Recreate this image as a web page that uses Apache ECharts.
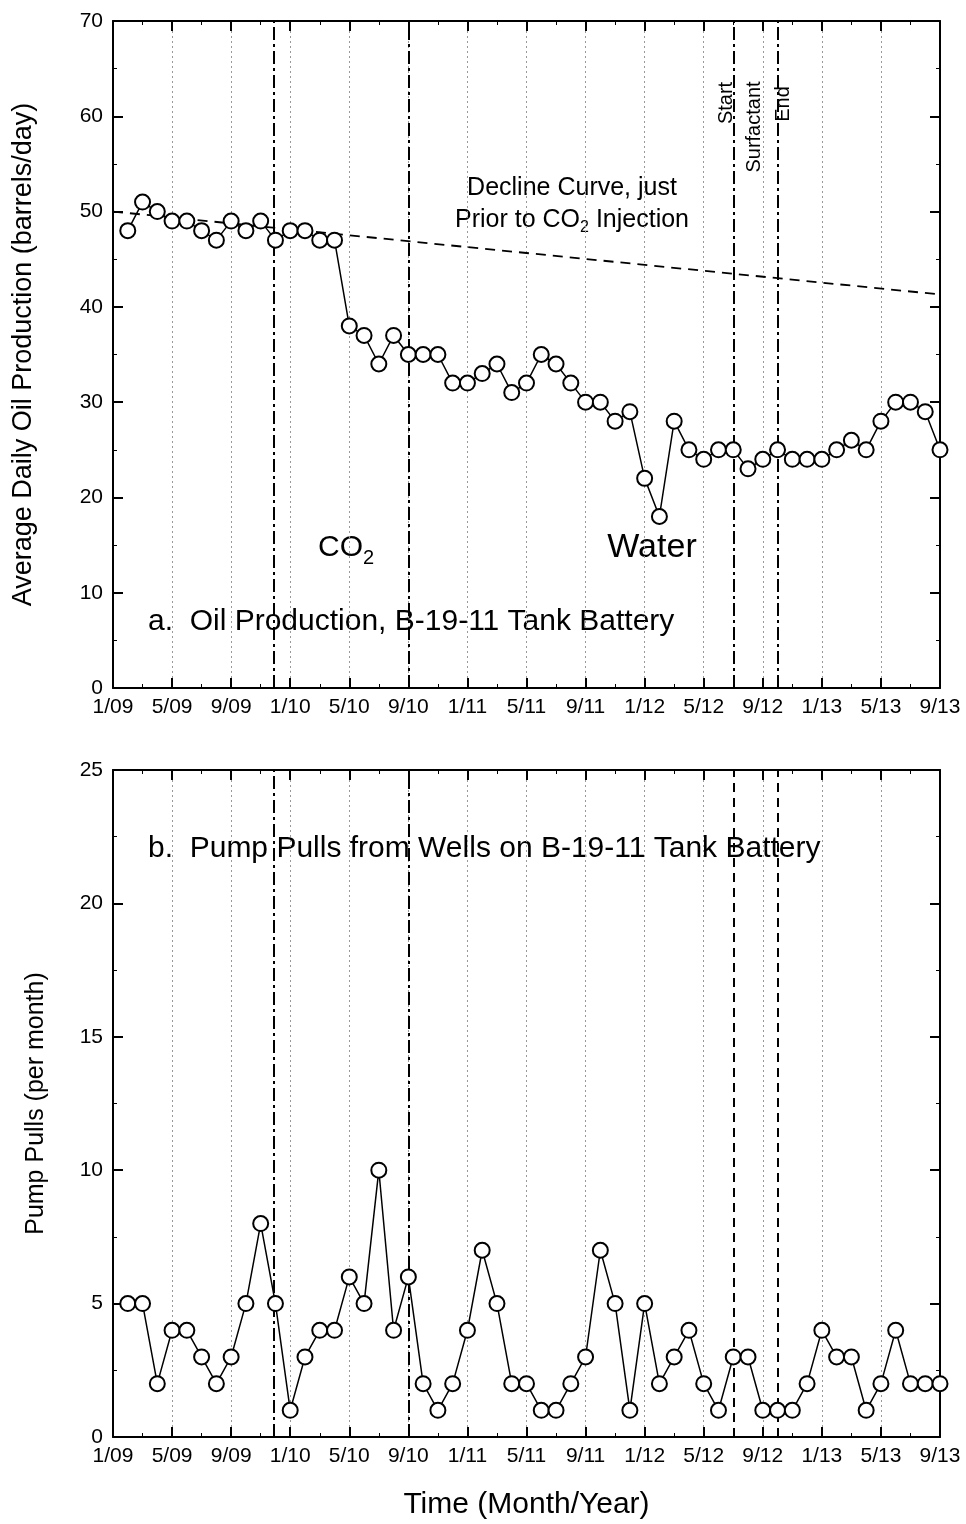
<!DOCTYPE html>
<html>
<head>
<meta charset="utf-8">
<script src="https://cdn.jsdelivr.net/npm/echarts@6/dist/echarts.min.js"></script>
<style>
  html, body { margin: 0; padding: 0; background: #fff; }
  #chart { width: 966px; height: 1524px; }
</style>
</head>
<body>
<div id="chart"></div>
<script>
  // tick labels on the time axis, every 4 months starting 1/09
  const xTickLabels = ['1/09', '5/09', '9/09', '1/10', '5/10', '9/10', '1/11', '5/11',
    '9/11', '1/12', '5/12', '9/12', '1/13', '5/13', '9/13'];

  // monthly average oil production (barrels/day), Feb 09 .. Sep 13
  const oilRate = [48, 51, 50, 49, 49, 48, 47, 49, 48, 49, 47, 48, 48, 47, 47,
    38, 37, 34, 37, 35, 35, 35, 32, 32, 33, 34, 31, 32, 35, 34, 32, 30, 30,
    28, 29, 22, 18, 28, 25, 24, 25, 25, 23, 24, 25, 24, 24, 24, 25, 26, 25, 28, 30, 30, 29, 25];

  // monthly pump pulls
  const pumpPulls = [5, 5, 2, 4, 4, 3, 2, 3, 5, 8, 5, 1, 3, 4, 4, 6, 5, 10, 4, 6,
    2, 1, 2, 4, 7, 5, 2, 2, 1, 1, 2, 3, 7, 5, 1, 5, 2, 3, 4, 2,
    1, 3, 3, 1, 1, 1, 2, 4, 3, 3, 1, 2, 4, 2, 2, 2];

  // decline curve just prior to CO2 injection (month, rate)
  const declineMonths = [0, 56];
  const declineRate = [50, 41.3];

  // event lines: CO2 start, water start, surfactant start, surfactant end
  const eventMonths = [10.9, 20, 42, 45];

  const FONT = '"Liberation Sans", Arial, sans-serif';
  const DASHDOT = [13, 4, 3, 4];
  const DASHED = [9, 6];

  let chart = echarts.init(document.getElementById('chart'));

  function makeXAxes(gridIndex, withName) {
    let main = {
      type: 'value', gridIndex: gridIndex, min: 0, max: 56, interval: 4,
      position: 'bottom',
      axisLine: { onZero: false, lineStyle: { color: '#000', width: 2 } },
      axisTick: { inside: true, length: 10, lineStyle: { color: '#000', width: 2 } },
      minorTick: { show: true, splitNumber: 2, length: 4, lineStyle: { color: '#000', width: 1 } },
      axisLabel: {
        color: '#000', fontFamily: FONT, fontSize: 21, margin: 9,
        formatter: v => xTickLabels[Math.round(v / 4)]
      },
      splitLine: { show: true, lineStyle: { color: '#999', width: 1, type: [2, 3] } }
    };
    if (withName) {
      main.name = 'Time (Month/Year)';
      main.nameLocation = 'middle';
      main.nameGap = 53;
      main.nameTextStyle = { color: '#000', fontFamily: FONT, fontSize: 30 };
    }
    let mirror = {
      type: 'value', gridIndex: gridIndex, min: 0, max: 56, interval: 4,
      position: 'top',
      axisLine: { onZero: false, lineStyle: { color: '#000', width: 2 } },
      axisTick: { inside: true, length: 10, lineStyle: { color: '#000', width: 2 } },
      minorTick: { show: true, splitNumber: 2, length: 4, lineStyle: { color: '#000', width: 1 } },
      axisLabel: { show: false },
      splitLine: { show: false }
    };
    return [main, mirror];
  }

  function makeYAxes(gridIndex, max, interval, name, nameGap, nameSize) {
    let main = {
      type: 'value', gridIndex: gridIndex, min: 0, max: max, interval: interval,
      position: 'left',
      name: name, nameLocation: 'middle', nameGap: nameGap,
      nameTextStyle: { color: '#000', fontFamily: FONT, fontSize: nameSize },
      axisLine: { show: true, onZero: false, lineStyle: { color: '#000', width: 2 } },
      axisTick: { show: true, inside: true, length: 10, lineStyle: { color: '#000', width: 2 } },
      minorTick: { show: true, splitNumber: 2, length: 4, lineStyle: { color: '#000', width: 1 } },
      axisLabel: { color: '#000', fontFamily: FONT, fontSize: 21, margin: 10 },
      splitLine: { show: false }
    };
    let mirror = {
      type: 'value', gridIndex: gridIndex, min: 0, max: max, interval: interval,
      position: 'right',
      axisLine: { show: true, onZero: false, lineStyle: { color: '#000', width: 2 } },
      axisTick: { show: true, inside: true, length: 10, lineStyle: { color: '#000', width: 2 } },
      minorTick: { show: true, splitNumber: 2, length: 4, lineStyle: { color: '#000', width: 1 } },
      axisLabel: { show: false },
      splitLine: { show: false }
    };
    return [main, mirror];
  }

  function eventLines(styles) {
    return {
      silent: true,
      symbol: 'none',
      label: { show: false },
      data: eventMonths.map((m, i) => ({
        xAxis: m,
        lineStyle: { color: '#000', width: 2, type: styles[i] }
      }))
    };
  }

  const markerStyle = {
    type: 'line',
    symbol: 'emptyCircle',
    symbolSize: 15,
    showSymbol: true,
    lineStyle: { color: '#000', width: 1.5 },
    itemStyle: { color: '#000', borderColor: '#000', borderWidth: 1.3 },
    z: 5
  };

  let option = {
    animation: false,
    backgroundColor: '#fff',
    grid: [
      { left: 113, right: 26, top: 21, height: 667 },
      { left: 113, right: 26, top: 770, height: 667 }
    ],
    xAxis: [...makeXAxes(0, false), ...makeXAxes(1, true)],
    yAxis: [
      ...makeYAxes(0, 70, 10, 'Average Daily Oil Production (barrels/day)', 76, 27),
      ...makeYAxes(1, 25, 5, 'Pump Pulls (per month)', 64, 25)
    ],
    series: [
      {
        name: 'Decline Curve',
        type: 'line',
        xAxisIndex: 0, yAxisIndex: 0,
        showSymbol: false,
        lineStyle: { color: '#000', width: 1.8, type: [10, 7] },
        data: declineMonths.map((m, i) => [m, declineRate[i]]),
        z: 3
      },
      Object.assign({}, markerStyle, {
        name: 'Oil Production',
        xAxisIndex: 0, yAxisIndex: 0,
        data: oilRate.map((v, i) => [i + 1, v]),
        markLine: eventLines([DASHDOT, DASHDOT, DASHDOT, DASHDOT])
      }),
      Object.assign({}, markerStyle, {
        name: 'Pump Pulls',
        xAxisIndex: 2, yAxisIndex: 2,
        data: pumpPulls.map((v, i) => [i + 1, v]),
        markLine: eventLines([DASHDOT, DASHDOT, DASHED, DASHED])
      })
    ],
    graphic: [
      {
        type: 'text', x: 572, y: 188,
        style: { text: 'Decline Curve, just', font: '25px ' + FONT, fill: '#000', align: 'center', verticalAlign: 'middle' }
      },
      {
        type: 'text', x: 572, y: 220,
        style: {
          text: '{n|Prior to CO}{s|2}{n| Injection}', align: 'center', verticalAlign: 'middle',
          rich: {
            n: { font: '25px ' + FONT, fill: '#000' },
            s: { font: '16px ' + FONT, fill: '#000', padding: [16, 0, 0, 0] }
          }
        }
      },
      {
        type: 'text', x: 318, y: 548,
        style: {
          text: '{n|CO}{s|2}', verticalAlign: 'middle',
          rich: {
            n: { font: '30px ' + FONT, fill: '#000' },
            s: { font: '20px ' + FONT, fill: '#000', padding: [20, 0, 0, 0] }
          }
        }
      },
      {
        type: 'text', x: 652, y: 548,
        style: { text: 'Water', font: '34px ' + FONT, fill: '#000', align: 'center', verticalAlign: 'middle' }
      },
      {
        type: 'text', x: 148, y: 622,
        style: { text: 'a.  Oil Production, B-19-11 Tank Battery', font: '30px ' + FONT, fill: '#000', verticalAlign: 'middle' }
      },
      {
        type: 'text', x: 148, y: 849,
        style: { text: 'b.  Pump Pulls from Wells on B-19-11 Tank Battery', font: '30px ' + FONT, fill: '#000', verticalAlign: 'middle' }
      },
      {
        type: 'text', x: 726, y: 103, rotation: Math.PI / 2,
        style: { text: 'Start', font: '20px ' + FONT, fill: '#000', align: 'center', verticalAlign: 'middle' }
      },
      {
        type: 'text', x: 754, y: 127, rotation: Math.PI / 2,
        style: { text: 'Surfactant', font: '20px ' + FONT, fill: '#000', align: 'center', verticalAlign: 'middle' }
      },
      {
        type: 'text', x: 783, y: 104, rotation: Math.PI / 2,
        style: { text: 'End', font: '20px ' + FONT, fill: '#000', align: 'center', verticalAlign: 'middle' }
      }
    ]
  };

  option && chart.setOption(option);
</script>
</body>
</html>
